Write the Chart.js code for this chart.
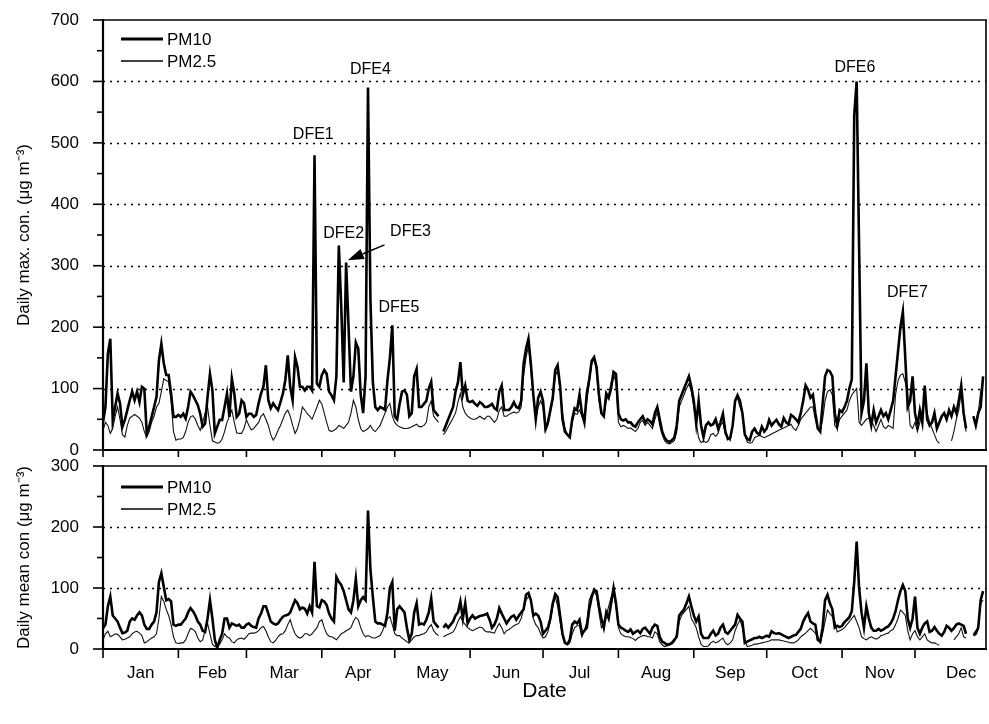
<!DOCTYPE html>
<html><head><meta charset="utf-8">
<script src="https://cdn.jsdelivr.net/npm/chart.js@4.4.1/dist/chart.umd.min.js"></script>
<style>
html,body{margin:0;padding:0;background:#fff;}
#wrap{position:relative;width:989px;height:724px;overflow:hidden;}
canvas{position:absolute;left:0;}
</style></head><body>
<div id="wrap">
<canvas id="topChart" width="989" height="460" style="top:0"></canvas>
<canvas id="botChart" width="989" height="272" style="top:452px"></canvas>
</div>
<script>
// ---------- data ----------
const months = ['Jan','Feb','Mar','Apr','May','Jun','Jul','Aug','Sep','Oct','Nov','Dec'];
const monthStarts = [0,31,59,90,120,151,181,212,243,273,304,334];
const seriesNames = ['PM10','PM2.5'];
const yTicksMax = [0,100,200,300,400,500,600,700];
const yTicksMean = [0,100,200,300];

const pm10Max = [
45,70,157,181,49,70,92,76,38,49,
65,81,95,81,95,78,103,100,27,38,
54,70,86,146,173,141,122,122,92,54,
54,57,54,59,51,70,95,89,81,73,
59,38,43,86,124,97,27,38,49,49,
70,92,54,116,92,54,59,81,76,54,
59,59,54,57,76,92,103,138,81,68,
76,70,65,78,92,114,154,103,81,151,
135,103,103,97,103,103,97,480,108,103,
122,130,124,95,89,81,120,333,233,110,
305,200,95,120,175,165,90,60,120,590,
244,110,70,65,70,68,65,113,150,203,
55,50,75,95,97,90,55,60,120,132,
70,70,75,80,100,111,65,60,55,
null,30,40,50,60,70,95,110,143,90,
105,80,78,80,75,72,78,75,70,70,
72,75,68,65,95,105,65,65,65,70,
78,70,68,80,140,165,181,140,90,50,
85,95,80,35,45,65,85,130,138,105,
50,30,25,21,50,68,65,90,60,45,
92,115,145,151,135,90,60,55,92,85,
100,127,124,60,50,48,50,45,45,40,
38,45,50,55,45,50,47,42,60,70,
50,30,20,15,13,16,20,40,80,90,
100,110,120,103,80,43,80,40,21,40,
45,40,42,50,35,45,59,30,18,20,
40,80,89,80,60,25,18,16,30,35,
28,25,38,30,35,49,40,45,49,42,
38,52,45,42,57,54,50,45,60,80,
105,98,85,90,60,35,30,75,120,130,
128,120,60,40,65,62,70,80,100,115,
545,600,330,60,80,141,60,40,65,45,
55,65,55,60,50,65,80,120,160,
200,225,150,70,80,120,60,40,65,45,
105,50,40,45,60,35,45,55,60,50,
65,55,70,60,80,105,60,35,null,null,
55,40,60,70,120
];
const pm25Max = [
32,45,40,27,35,55,70,50,25,21,
40,52,55,58,55,52,45,30,21,30,
45,55,70,76,95,116,113,111,80,30,
16,18,18,20,30,45,54,56,50,40,
32,45,60,70,40,15,13,11,12,18,
30,45,55,65,45,28,27,27,35,49,
40,33,35,40,45,55,59,50,40,25,
16,22,32,40,50,60,65,55,40,27,
35,50,70,65,59,55,50,60,70,81,
75,60,45,32,30,32,35,40,38,35,
40,45,60,81,70,50,35,30,32,35,
40,33,30,35,40,50,60,70,76,55,
45,40,38,36,35,35,36,38,40,42,
38,38,40,45,70,80,55,50,45,
null,25,30,38,45,52,60,78,92,70,
60,55,52,50,50,52,55,52,50,55,
55,50,45,50,65,70,55,55,58,60,
62,60,62,70,120,150,170,130,90,50,
70,80,70,30,40,60,80,120,130,100,
60,35,25,20,45,60,58,65,55,45,
80,108,140,149,130,80,60,55,80,90,
110,122,110,45,38,40,38,35,36,33,
30,35,45,48,40,45,40,35,50,62,
40,25,15,11,10,12,15,30,70,80,
90,100,108,95,70,45,20,12,15,12,
15,25,27,22,27,40,45,25,20,15,
40,80,85,70,60,25,13,11,12,20,
22,24,22,20,22,24,26,28,30,32,
34,36,38,40,42,35,32,40,50,55,
60,65,70,70,50,35,30,50,80,95,
98,90,40,35,50,55,60,65,80,90,
95,100,45,40,45,50,52,48,40,30,
40,50,38,35,40,38,35,90,113,
122,124,110,90,40,35,45,30,45,65,
80,60,45,35,25,15,11,null,null,null,
null,15,30,50,65,95,55,30,null,null,
55,45,60,95,115
];
const pm10Mean = [
34,40,70,86,55,50,45,35,26,27,
30,45,50,48,55,60,55,40,33,33,
40,45,60,110,124,102,80,82,78,40,
38,40,40,45,50,60,67,62,55,45,
40,30,28,50,80,50,15,2,15,25,
50,50,35,42,40,38,40,35,35,40,
42,38,36,35,50,58,70,70,58,45,
42,40,42,48,53,55,56,60,70,80,
75,65,68,66,58,70,60,143,70,68,
80,78,72,58,50,45,118,110,105,95,
80,65,60,80,115,70,80,85,80,227,
130,85,45,42,42,40,38,60,100,110,
30,65,70,65,60,35,15,25,60,75,
40,42,40,48,60,83,45,40,35,
null,35,40,35,40,45,55,60,78,50,
75,42,50,55,50,52,54,55,56,58,
48,35,40,50,67,58,50,42,48,53,
55,48,54,60,65,89,92,80,55,58,
55,45,25,30,35,50,75,90,85,55,
25,10,8,15,40,45,42,48,25,30,
35,65,85,97,95,70,50,35,60,50,
75,100,75,40,35,33,30,28,32,25,
28,30,26,33,35,30,25,35,40,38,
20,12,10,7,8,10,15,20,55,60,
65,75,86,70,55,45,53,25,18,18,
18,25,30,22,25,35,40,28,25,30,
35,40,56,50,45,10,12,14,16,18,
18,20,18,20,22,20,29,26,25,26,
24,22,20,18,20,22,23,28,33,45,
53,59,45,42,40,15,12,35,80,89,
75,65,35,38,36,38,44,48,52,62,
110,176,100,60,35,70,50,35,30,30,
33,30,32,35,37,42,50,62,80,
95,105,95,50,35,50,86,35,25,35,
42,45,28,30,36,30,25,22,28,38,
35,30,34,40,42,40,38,25,null,null,
22,25,35,80,95
];
const pm25Mean = [
15,25,29,20,22,25,24,20,15,16,
18,20,25,28,29,26,22,10,12,15,
18,20,25,50,86,78,65,55,40,20,
10,9,10,10,15,25,34,32,28,18,
12,15,30,42,25,8,4,5,8,15,
25,20,18,12,10,15,17,18,16,20,
25,26,26,27,30,35,37,30,20,12,
10,14,20,24,25,30,40,48,35,25,
20,18,20,25,25,22,25,30,35,45,
48,35,25,21,20,18,15,20,25,27,
30,32,35,45,52,48,35,25,20,22,
20,18,18,20,22,30,40,50,53,40,
25,22,22,18,15,12,10,15,20,22,
22,24,25,28,35,40,30,25,22,
null,20,22,24,26,28,35,45,53,45,
40,35,32,30,32,34,36,35,30,28,
28,27,26,35,42,35,25,30,32,35,
38,40,42,50,65,80,86,80,50,40,
35,25,18,20,28,45,70,86,70,45,
20,10,7,10,25,35,38,38,20,30,
45,80,90,94,88,60,35,40,55,70,
85,94,70,35,25,22,20,20,19,17,
14,18,20,22,22,20,20,18,28,25,
12,7,4,5,6,8,12,25,45,55,
60,65,70,50,43,35,20,8,4,4,
5,10,13,10,12,15,18,10,7,10,
15,30,40,48,35,15,4,5,6,8,
8,9,10,11,12,13,15,15,15,15,
14,13,12,11,10,10,12,15,20,23,
26,30,34,30,26,20,10,25,45,64,
58,53,45,28,30,32,35,40,45,50,
55,45,35,20,17,15,18,20,18,16,
18,22,23,25,26,30,32,40,50,
64,60,55,30,15,25,30,20,15,20,
25,15,12,10,10,8,6,null,null,null,
null,null,15,20,25,35,20,18,null,null,
25,30,35,75,80
];
const monthLabelDays = [15.5,45,74.5,105,135.5,166,196,227.5,258,288.5,319.5,353];
const eventLabels = [
  {text:'DFE1', day:86.5, value:514},
  {text:'DFE2', day:99, value:352},
  {text:'DFE3', day:126.5, value:355},
  {text:'DFE4', day:110, value:620},
  {text:'DFE5', day:121.7, value:232},
  {text:'DFE6', day:309.3, value:623},
  {text:'DFE7', day:330.9, value:256}
];

// ---------- drawing ----------
const FONT = "'Liberation Sans', Arial, Helvetica, sans-serif";
const X_MAX = 363.2;
function seg(ctx,x1,y1,x2,y2){ctx.beginPath();ctx.moveTo(x1,y1);ctx.lineTo(x2,y2);ctx.stroke();}

const decor = {
  id:'decor',
  beforeDatasetsDraw(chart, args, o){
    const {ctx, chartArea:a, scales:{y}} = chart;
    ctx.save();
    ctx.strokeStyle='#000'; ctx.lineWidth=1.3; ctx.setLineDash([2,5]);
    o.gridValues.forEach(v=>{const py=Math.round(y.getPixelForValue(v))+0.5; seg(ctx,a.left,py,a.right,py);});
    ctx.restore();
  },
  afterDraw(chart, args, o){
    const {ctx, chartArea:a, scales:{x,y}} = chart;
    ctx.save();
    ctx.strokeStyle='#000'; ctx.fillStyle='#000';
    ctx.lineWidth=1.6;
    seg(ctx,a.left,a.top,a.right+1,a.top);
    seg(ctx,a.right,a.top,a.right,a.bottom);
    ctx.lineWidth=2.2;
    seg(ctx,a.left,a.top-1,a.left,a.bottom+1);
    seg(ctx,a.left-1,a.bottom,a.right+1,a.bottom);
    ctx.lineWidth=1.6;
    for(let v=0; v<=y.max; v+=50){
      const py=y.getPixelForValue(v);
      seg(ctx,a.left-(v%100===0?10:6),py,a.left,py);
    }
    monthStarts.forEach(d=>{const px=x.getPixelForValue(d); seg(ctx,px,a.bottom,px,a.bottom+o.xTickLen);});
    // legend
    ctx.font='17px '+FONT; ctx.textBaseline='middle'; ctx.textAlign='left';
    chart.data.datasets.forEach((ds,i)=>{
      const ly=a.top+o.legendTop+i*22;
      ctx.lineWidth = i===0?3:1.5;
      seg(ctx,a.left+18,ly,a.left+60,ly);
      ctx.fillText(ds.label,a.left+64,ly+1);
    });
    // event labels
    if(o.events){
      ctx.font='16px '+FONT; ctx.textAlign='center';
      o.events.forEach(l=>ctx.fillText(l.text,x.getPixelForValue(l.day),y.getPixelForValue(l.value)));
      const ar=o.arrow;
      const x1=x.getPixelForValue(ar.from[0]), y1=y.getPixelForValue(ar.from[1]);
      const x2=x.getPixelForValue(ar.to[0]), y2=y.getPixelForValue(ar.to[1]);
      const ang=Math.atan2(y2-y1,x2-x1), L=16, W=5.5;
      const bx=x2-L*Math.cos(ang), by=y2-L*Math.sin(ang);
      ctx.lineWidth=1.5; seg(ctx,x1,y1,bx,by);
      ctx.beginPath(); ctx.moveTo(x2,y2);
      ctx.lineTo(bx+W*Math.sin(ang),by-W*Math.cos(ang));
      ctx.lineTo(bx-W*Math.sin(ang),by+W*Math.cos(ang));
      ctx.closePath(); ctx.fill();
    }
    if(o.months){
      ctx.font='17px '+FONT; ctx.textAlign='center';
      months.forEach((m,i)=>ctx.fillText(m,x.getPixelForValue(monthLabelDays[i]),a.bottom+24));
      ctx.font='21px '+FONT;
      ctx.fillText('Date',(a.left+a.right)/2,a.bottom+42);
    }
    ctx.restore();
  }
};

function build(id, pm10, pm25, tickVals, title, padTop, padBottom, plug){
  const mk = arr => arr.map((v,i)=>({x:i, y:v}));
  return new Chart(document.getElementById(id), {
    type:'line',
    data:{datasets:[
      {label:seriesNames[0], data:mk(pm10), borderColor:'#000', borderWidth:2.6, pointRadius:0, tension:0, spanGaps:false, order:0},
      {label:seriesNames[1], data:mk(pm25), borderColor:'#111', borderWidth:1.1, pointRadius:0, tension:0, spanGaps:false, order:1}
    ]},
    options:{
      responsive:false, animation:false, devicePixelRatio:1,
      layout:{padding:{left:0,right:3,top:padTop,bottom:padBottom}},
      plugins:{legend:{display:false}, tooltip:{enabled:false}, decor:plug},
      scales:{
        x:{type:'linear', min:0, max:X_MAX, display:false},
        y:{type:'linear', min:0, max:tickVals[tickVals.length-1],
           afterBuildTicks(s){ s.ticks = tickVals.map(v=>({value:v})); },
           ticks:{color:'#000', padding:16, font:{family:FONT,size:17}},
           grid:{display:false}, border:{display:false},
           title:{display:true, text:title, color:'#000', font:{family:FONT,size:17}, padding:{top:14,bottom:0}},
           afterFit(s){ s.width=103; s.paddingTop=0; s.paddingBottom=0; }
        }
      }
    },
    plugins:[decor]
  });
}

build('topChart', pm10Max, pm25Max, yTicksMax, 'Daily max. con. (\u03bcg m\u207b\u00b3)', 20, 10,
  {gridValues:[100,200,300,400,500,600], xTickLen:7, legendTop:19, events:eventLabels,
   arrow:{from:[115.8,334],to:[100.7,309]}, months:false});
build('botChart', pm10Mean, pm25Mean, yTicksMean, 'Daily mean con (\u03bcg m\u207b\u00b3)', 14, 75,
  {gridValues:[100,200], xTickLen:9, legendTop:21, events:null, months:true});
</script>
</body></html>
